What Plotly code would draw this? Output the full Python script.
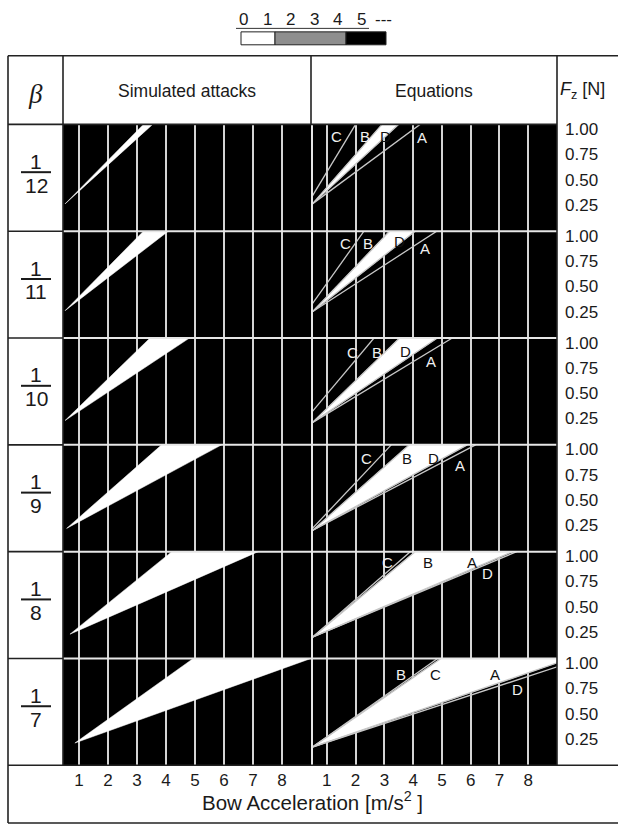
import plotly.graph_objects as go

W, H = 618, 825

# ---------------- data ----------------
beta_den = ['12', '11', '10', '9', '8', '7']
accel_ticks = [1, 2, 3, 4, 5, 6, 7, 8]
force_ticks = [0.25, 0.50, 0.75, 1.00]
force_tick_text = ['0.25', '0.50', '0.75', '1.00']
legend_labels = ['0', '1', '2', '3', '4', '5', '---']

# Simulated attacks: playable wedge (apex, and acceleration where each edge meets the top of the panel)
sim_apex_acc = [0.52, 0.52, 0.52, 0.575, 0.69, 0.86]
sim_apex_force = [0.26, 0.26, 0.23, 0.22, 0.23, 0.21]
sim_upper_top_acc = [3.22, 3.22, 3.45, 3.85, 4.20, 4.94]
sim_lower_top_acc = [3.54, 4.08, 4.81, 5.92, 7.18, 9.00]

# Equations: lines C, B, D, A (start at left edge, acceleration where they meet the top of the panel)
eq_start_acc = 0.5
eq_apex_force = [0.26, 0.25, 0.21, 0.20, 0.20, 0.17]
eq_C_start_force = [0.34, 0.33, 0.32, 0.22, 0.20, 0.17]
eq_C_top = [2.00, 2.29, 2.64, 3.24, 3.90, 4.97]
eq_B_top = [2.92, 3.18, 3.53, 3.87, 4.07, 4.85]
eq_D_top = [3.49, 4.07, 4.84, 5.88, 7.60, 9.89]
eq_A_top = [4.24, 4.82, 5.36, 6.17, 7.45, 9.44]

eq_lbl_letters = [['C', 'B', 'D', 'A'], ['C', 'B', 'D', 'A'], ['C', 'B', 'D', 'A'],
                  ['C', 'B', 'D', 'A'], ['C', 'B', 'A', 'D'], ['B', 'C', 'A', 'D']]
eq_lbl_acc = [[1.35, 2.33, 3.05, 4.32], [1.64, 2.44, 3.53, 4.40], [1.89, 2.75, 3.74, 4.63],
              [2.38, 3.78, 4.70, 5.62], [3.12, 4.50, 6.06, 6.57], [3.59, 4.79, 6.86, 7.61]]
eq_lbl_force = [[0.93, 0.93, 0.93, 0.92], [0.92, 0.92, 0.94, 0.87], [0.90, 0.90, 0.91, 0.81],
                [0.915, 0.915, 0.915, 0.84], [0.94, 0.94, 0.94, 0.83], [0.89, 0.89, 0.89, 0.735]]

# ---------------- geometry ----------------
ACC_RANGE = [0.45, 9.0]
F_MIN, F_TOP = -0.01, 1.045
TABLE_L, COL_B, COL_MID, COL_F = 8, 63, 311, 557
TOP, HEAD_B, ROWS_B, BOTTOM = 52, 121, 765, 823
ROW_H = (ROWS_B - HEAD_B) / 6
FONT = 'Liberation Sans, Arial, sans-serif'
INK = '#1a1a1a'


def px(x):
    return x / W


def py(y):
    return 1 - y / H


def ptext(x, y, text, size, family=FONT, xanchor='center'):
    return dict(x=px(x), y=py(y), xref='paper', yref='paper', text=text, showarrow=False,
                xanchor=xanchor, yanchor='middle',
                font=dict(size=size, family=family, color=INK))


fig = go.Figure()
layout = dict(
    width=W, height=H, margin=dict(l=0, r=0, t=0, b=0),
    paper_bgcolor='white', plot_bgcolor='black', showlegend=False,
    font=dict(family=FONT, color=INK),
)
annotations = []
shapes = []

for r in range(6):
    top = HEAD_B + r * ROW_H
    bot = top + ROW_H
    for c in range(2):
        idx = r * 2 + c + 1
        xs = '' if idx == 1 else str(idx)
        x0, x1 = (COL_B, COL_MID) if c == 0 else (COL_MID, COL_F)
        layout['xaxis' + xs] = dict(
            domain=[px(x0), px(x1)], range=ACC_RANGE, anchor='y' + xs,
            tickvals=accel_ticks, showgrid=True, gridcolor='#d4d4d4', gridwidth=1.5,
            showticklabels=(r == 5), ticks='', tickfont=dict(size=17, color=INK),
            zeroline=False, showline=False, fixedrange=True, ticklabelstandoff=3,
        )
        layout['yaxis' + xs] = dict(
            domain=[py(bot), py(top)], range=[F_MIN, F_TOP], anchor='x' + xs,
            tickvals=force_ticks, ticktext=force_tick_text, showgrid=False,
            zeroline=False, showline=False, ticks='', side='right' if c == 1 else 'left',
            showticklabels=(c == 1), tickfont=dict(size=17, color=INK),
            fixedrange=True, ticklabelstandoff=7,
        )

    # --- simulated attacks wedge
    xs = '' if r == 0 else str(r * 2 + 1)
    fig.add_trace(go.Scatter(
        x=[sim_apex_acc[r], sim_upper_top_acc[r], sim_lower_top_acc[r], sim_apex_acc[r]],
        y=[sim_apex_force[r], F_TOP, F_TOP, sim_apex_force[r]],
        fill='toself', fillcolor='white', mode='lines', line=dict(width=0.5, color='white'),
        xaxis='x' + xs, yaxis='y' + xs, hoverinfo='skip'))

    # --- equations
    xs2 = str(r * 2 + 2)
    left_top = max(eq_C_top[r], eq_B_top[r])
    right_top = min(eq_D_top[r], eq_A_top[r])
    fig.add_trace(go.Scatter(
        x=[eq_start_acc, left_top, right_top, eq_start_acc],
        y=[eq_apex_force[r], F_TOP, F_TOP, eq_apex_force[r]],
        fill='toself', fillcolor='white', mode='lines', line=dict(width=0.5, color='white'),
        xaxis='x' + xs2, yaxis='y' + xs2, hoverinfo='skip'))
    lines = {'C': (eq_C_start_force[r], eq_C_top[r]), 'B': (eq_apex_force[r], eq_B_top[r]),
             'D': (eq_apex_force[r], eq_D_top[r]), 'A': (eq_apex_force[r], eq_A_top[r])}
    for name, (f0, xt) in lines.items():
        fig.add_trace(go.Scatter(
            x=[eq_start_acc, xt], y=[f0, F_TOP], mode='lines',
            line=dict(width=1.3, color='#c8c8c8'),
            xaxis='x' + xs2, yaxis='y' + xs2, hoverinfo='skip'))

    # labels
    a0 = eq_apex_force[r]
    for name, xa, fa in zip(eq_lbl_letters[r], eq_lbl_acc[r], eq_lbl_force[r]):
        t = (fa - a0) / (F_TOP - a0)
        xl = eq_start_acc + (left_top - eq_start_acc) * t
        xr = eq_start_acc + (right_top - eq_start_acc) * t
        inside = xl <= xa <= xr
        annotations.append(dict(
            x=xa, y=fa, xref='x' + xs2, yref='y' + xs2, text=name, showarrow=False,
            xanchor='center', yanchor='middle',
            font=dict(size=15, family=FONT, color='#111111' if inside else '#f0f0f0')))

    # beta fraction
    annotations.append(ptext(36, top + 37, '1', 21))
    annotations.append(ptext(36, top + 61, beta_den[r], 21))
    shapes.append(dict(type='line', xref='paper', yref='paper', x0=px(21), x1=px(51),
                       y0=py(top + 48), y1=py(top + 48), line=dict(color=INK, width=2)))

# ---------------- table lines ----------------
def hline(x0, x1, y, color='#222222', w=1.6):
    shapes.append(dict(type='line', xref='paper', yref='paper', x0=px(x0), x1=px(x1),
                       y0=py(y), y1=py(y), line=dict(color=color, width=w), layer='above'))


def vline(x, y0, y1, color='#222222', w=1.6):
    shapes.append(dict(type='line', xref='paper', yref='paper', x0=px(x), x1=px(x),
                       y0=py(y0), y1=py(y1), line=dict(color=color, width=w), layer='above'))


# white separators inside the black area
for r in range(1, 6):
    y = HEAD_B + r * ROW_H
    hline(COL_B, COL_F, y, color='#e6e6e6', w=2)
vline(COL_MID + 1, HEAD_B, ROWS_B, color='#e6e6e6', w=2)

hline(TABLE_L, W, TOP)
hline(TABLE_L, COL_F, HEAD_B)
hline(TABLE_L, W, ROWS_B)
hline(TABLE_L, W, BOTTOM)
for r in range(1, 6):
    hline(TABLE_L, COL_B, HEAD_B + r * ROW_H)
vline(TABLE_L, TOP, BOTTOM)
vline(COL_B, TOP, ROWS_B)
vline(COL_MID, TOP, HEAD_B)
vline(COL_F, TOP, ROWS_B)

# ---------------- headers ----------------
annotations += [
    ptext(35, 90, '<i>β</i>', 27, family='Liberation Serif, DejaVu Serif, serif'),
    ptext(187, 87, 'Simulated attacks', 17.5),
    ptext(434, 87, 'Equations', 17.5),
    ptext(558, 87, '<i>F</i><sub>z</sub> [N]', 18, xanchor='left'),
    ptext(312, 801, 'Bow Acceleration [m/s<sup>2</sup> ]', 20.5),
]

# ---------------- top legend ----------------
LEG_X0, LEG_STEP = 244, 23.4
for i, lab in enumerate(legend_labels):
    xc = LEG_X0 + i * LEG_STEP if lab != '---' else LEG_X0 + 5 * LEG_STEP + 23
    annotations.append(ptext(xc, 16, lab, 17))
shapes.append(dict(type='line', xref='paper', yref='paper', x0=px(236), x1=px(369),
                   y0=py(24.5), y1=py(24.5), line=dict(color='#333333', width=1)))
for (x0, x1, col) in [(241, 275, 'white'), (275, 346, '#8e8e8e'), (346, 386, 'black')]:
    shapes.append(dict(type='rect', xref='paper', yref='paper', x0=px(x0), x1=px(x1),
                       y0=py(41), y1=py(28), fillcolor=col, line=dict(color='#222222', width=1)))

layout['annotations'] = annotations
layout['shapes'] = shapes
fig.update_layout(**layout)

fig.write_html("out.html", config={'displayModeBar': False},
               post_script="document.body.style.margin='0';document.body.style.overflow='hidden';")
